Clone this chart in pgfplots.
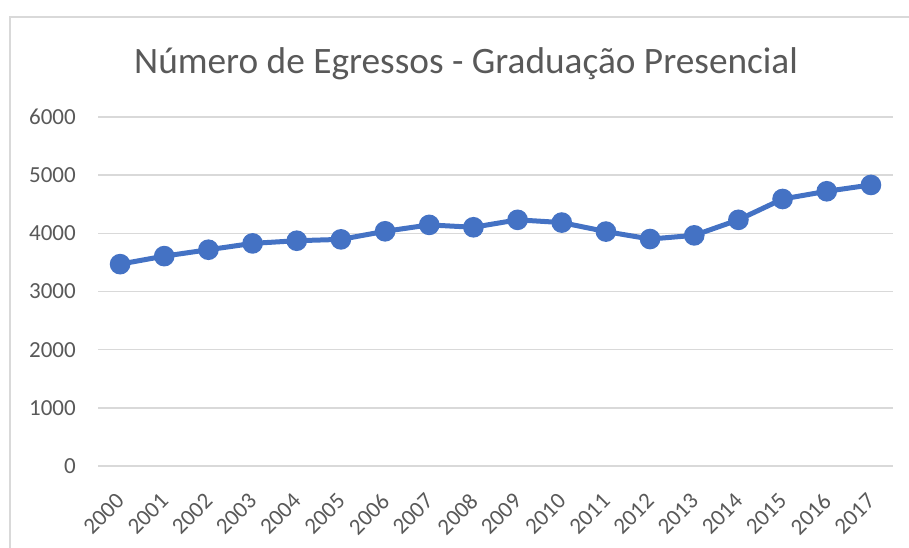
\documentclass[border=0pt]{standalone}
\usepackage{pgfplots}
\pgfplotsset{compat=1.18}
\usepackage{fontspec}
\setmainfont{Carlito}
\definecolor{ln}{HTML}{4472C4}
\definecolor{gridc}{HTML}{D9D9D9}
\definecolor{txt}{HTML}{595959}
\begin{document}
\begin{tikzpicture}
\useasboundingbox (0pt,0pt) rectangle (909pt,548pt);
\draw[color=gridc, line width=1.2pt] (10pt,-5pt) -- (10pt,531pt) -- (915pt,531pt);
\node[text=txt, font=\fontsize{37.3}{44}\selectfont] at (466pt,484pt) {Número de Egressos - Graduação Presencial};
\begin{axis}[at={(98pt,82pt)}, anchor=south west, scale only axis,
  width=795pt, height=349pt,
  xmin=-0.5, xmax=17.5, ymin=0, ymax=6000,
  ytick={0,1000,...,6000},
  xtick={0,...,17},
  xticklabels={2000,2001,2002,2003,2004,2005,2006,2007,2008,2009,2010,2011,2012,2013,2014,2015,2016,2017},
  scaled y ticks=false,
  /pgf/number format/1000 sep={},
  /pgf/number format/assume math mode=true,
  axis line style={draw=none},
  major tick length=0pt,
  ymajorgrids,
  grid style={color=gridc, line width=1.5pt},
  tick label style={text=txt, font=\fontsize{23}{27}\selectfont},
  yticklabel style={inner sep=0pt, xshift=-22pt},
  xticklabel style={rotate=45, anchor=north east, inner sep=0pt, xshift=-22pt, yshift=-14.6pt},
  clip=false,
]
\addplot[color=ln, line width=5pt, mark=*, mark size=7.8pt, mark options={fill=ln, draw=none}] coordinates {
(0,3470) (1,3608) (2,3718) (3,3827) (4,3873) (5,3896) (6,4035) (7,4145) (8,4104)
(9,4232) (10,4185) (11,4030) (12,3902) (13,3965) (14,4232) (15,4590) (16,4723) (17,4832)
};
\end{axis}
\end{tikzpicture}
\end{document}
